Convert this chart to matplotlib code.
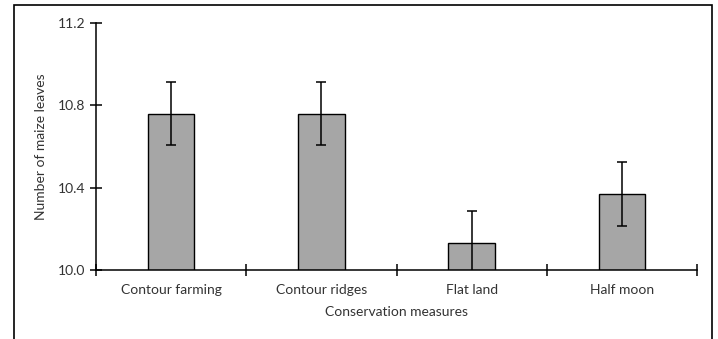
import matplotlib

matplotlib.use("Agg")
import matplotlib.pyplot as plt
from matplotlib.patches import Rectangle
import numpy as np

measures = ["Contour farming", "Contour ridges", "Flat land", "Half moon"]
leaves = [10.76, 10.76, 10.13, 10.37]
errors = [0.155, 0.155, 0.155, 0.155]
y_ticks = [10.0, 10.4, 10.8, 11.2]

plt.rcParams["font.family"] = ["Lato", "DejaVu Sans"]
text_color = "#333333"

fig = plt.figure(figsize=(7.18, 3.39), dpi=100)
ax = fig.add_axes([96 / 718, 69 / 339, 601 / 718, 247 / 339])

x = np.arange(len(measures))
ax.bar(x, leaves, width=0.31, color="#a6a6a6", edgecolor="black", linewidth=1.0,
       zorder=2)
ax.errorbar(x, leaves, yerr=errors, fmt="none", ecolor="black", elinewidth=1.1,
            capsize=3.5, capthick=1.1, zorder=3)

ax.set_xlim(-0.5, len(measures) - 0.5)
ax.set_ylim(10.0, 11.2)
ax.set_yticks(y_ticks)
ax.set_yticklabels([f"{v:.1f}" for v in y_ticks], fontsize=10, color=text_color)
ax.set_xticks(x)
ax.set_xticklabels(measures, fontsize=10, color=text_color)
ax.set_xticks(np.arange(len(measures) + 1) - 0.5, minor=True)
ax.tick_params(axis="x", which="major", length=0, pad=10)
ax.tick_params(axis="x", which="minor", direction="inout", length=9, width=1.1)
ax.tick_params(axis="y", direction="inout", length=9, width=1.1, pad=3)

for side in ["top", "right"]:
    ax.spines[side].set_visible(False)
for side in ["left", "bottom"]:
    ax.spines[side].set_linewidth(1.1)

ax.set_ylabel("Number of maize leaves", fontsize=10, labelpad=8, color=text_color)
ax.set_xlabel("Conservation measures", fontsize=10, labelpad=7, color=text_color)

# outer chart border
fig.patches.append(Rectangle((14 / 718, -0.1), 698 / 718, 1.1 - 5 / 339,
                             transform=fig.transFigure, fill=False,
                             edgecolor="black", linewidth=1.2, clip_on=False))

fig.savefig("out.png", dpi=100)
